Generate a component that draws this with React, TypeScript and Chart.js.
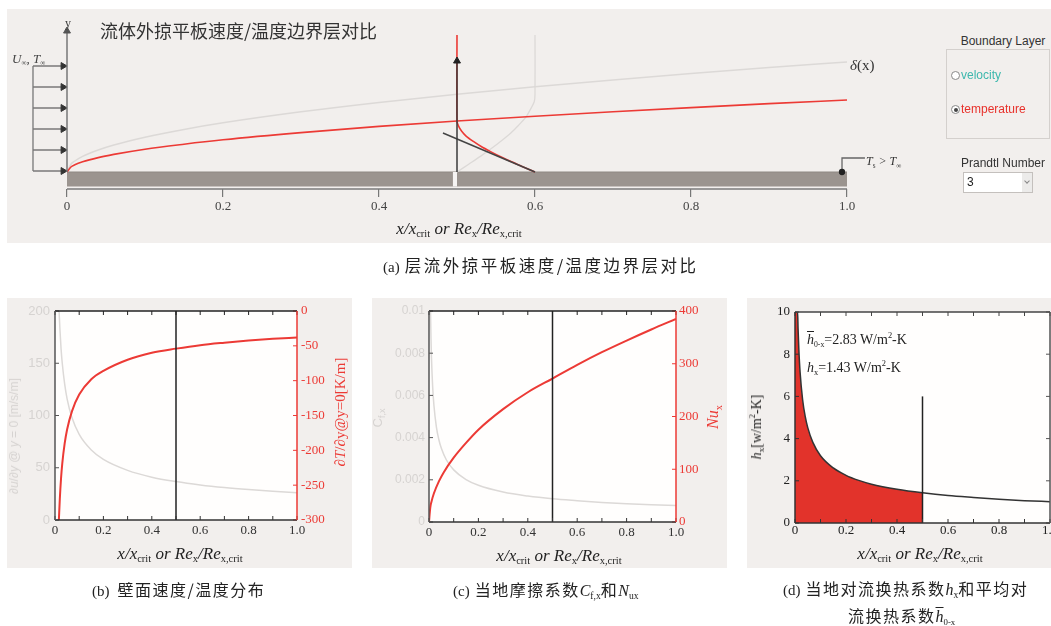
import React, { useEffect, useRef } from 'react';
import { Chart, registerables } from 'chart.js';

Chart.register(...registerables);

const SERIF = '"Liberation Serif", "DejaVu Serif", serif';
const SANS = '"Liberation Sans", Arial, sans-serif';
const CJK = '"Noto Sans CJK SC", "Noto Sans CJK JP", sans-serif';
const BG = '#f2efed';
const RED = '#ec3a35';
const GRAY = '#dcd9d7';
const DARK = '#333333';

// ---------------- data ----------------
const X_TICKS = [0, 0.2, 0.4, 0.6, 0.8, 1.0];
const X_MINOR = [0, 0.1, 0.2, 0.3, 0.4, 0.5, 0.6, 0.7, 0.8, 0.9, 1.0];

// (a) boundary layer thickness along the plate
const BL_X = [0, 0.005, 0.01, 0.02, 0.04, 0.06, 0.1, 0.15, 0.2, 0.3, 0.4, 0.5, 0.6, 0.7, 0.8, 0.9, 1.0];
const BL_VELOCITY = [0, 0.39, 0.55, 0.78, 1.1, 1.35, 1.74, 2.13, 2.46, 3.01, 3.48, 3.89, 4.26, 4.6, 4.92, 5.22, 5.5];
const BL_THERMAL = [0, 0.25, 0.36, 0.51, 0.72, 0.88, 1.14, 1.39, 1.61, 1.97, 2.28, 2.55, 2.79, 3.01, 3.22, 3.42, 3.6];
// profiles at x = 0.5
const VEL_PROFILE_X = [0.5, 0.515, 0.53, 0.544, 0.557, 0.569, 0.579, 0.588, 0.594, 0.599, 0.6, 0.6];
const VEL_PROFILE_Y = [0, 0.39, 0.78, 1.17, 1.56, 1.95, 2.34, 2.73, 3.12, 3.51, 3.9, 6.85];
const TEMP_PROFILE_X = [0.6, 0.585, 0.57, 0.556, 0.543, 0.531, 0.521, 0.512, 0.506, 0.502, 0.5, 0.5];
const TEMP_PROFILE_Y = [0, 0.255, 0.51, 0.765, 1.02, 1.275, 1.53, 1.785, 2.04, 2.295, 2.55, 6.85];
const TANGENT_X = [0.482, 0.6];
const TANGENT_Y = [1.95, 0];
const PROBE_X = 0.5;
const PROBE_TOP = 5.55;
const Y_AXIS_TOP = 7.05;
const INFLOW_Y = [5.3, 4.25, 3.2, 2.15, 1.1, 0.05];
const INFLOW_X0 = -0.0436;
const INFLOW_X1 = -0.005;
const PLATE_DEPTH = -0.72;
const AXIS_Y = -0.85;
const GAP_X = [0.4945, 0.5];
const TS_X = [0.9936, 0.9936, 1.023];
const TS_Y = [0, 0.7, 0.7];

// (b) wall gradients
const B_U_X = [0.0169, 0.02, 0.025, 0.03, 0.04, 0.05, 0.07, 0.1, 0.15, 0.2, 0.3, 0.4, 0.5, 0.6, 0.7, 0.8, 0.9, 1.0];
const B_DUDY = [200, 184, 164, 150, 130, 116, 98, 82, 67, 58, 47.5, 41, 36.8, 33.6, 31.1, 29.1, 27.4, 26];
const B_T_X = [0.016, 0.02, 0.025, 0.03, 0.04, 0.05, 0.07, 0.1, 0.15, 0.2, 0.3, 0.4, 0.5, 0.6, 0.7, 0.8, 0.9, 1.0];
const B_DTDY = [-300, -269, -240, -219, -190, -170, -144, -120, -98, -86, -70, -60, -54, -49, -45.5, -42.5, -40, -38];

// (c) friction coefficient and Nusselt number
const C_CF_X = [0.0061, 0.008, 0.01, 0.015, 0.02, 0.03, 0.04, 0.05, 0.07, 0.1, 0.15, 0.2, 0.3, 0.4, 0.5, 0.6, 0.7, 0.8, 0.9, 1.0];
const C_CF = [0.01, 0.00872, 0.0078, 0.00637, 0.00552, 0.0045, 0.0039, 0.00349, 0.00295, 0.00247, 0.00201, 0.00174, 0.00142, 0.00123, 0.0011, 0.00101, 0.00093, 0.00087, 0.00082, 0.00078];
const C_NU_X = [0, 0.005, 0.01, 0.02, 0.04, 0.06, 0.1, 0.15, 0.2, 0.3, 0.4, 0.5, 0.6, 0.7, 0.8, 0.9, 1.0];
const C_NU = [0, 27, 38.5, 54.5, 77, 94.5, 122, 150, 175, 214, 246, 272, 298, 322, 344, 365, 385];

// (d) local heat transfer coefficient
const D_X = [0, 0.0102, 0.012, 0.015, 0.02, 0.03, 0.04, 0.05, 0.07, 0.1, 0.15, 0.2, 0.25, 0.3, 0.4, 0.5, 0.6, 0.7, 0.8, 0.9, 1.0];
const D_H = [10, 10, 9.22, 8.25, 7.14, 5.83, 5.05, 4.52, 3.82, 3.19, 2.61, 2.26, 2.02, 1.84, 1.6, 1.43, 1.3, 1.21, 1.13, 1.06, 1.01];
const D_FILL_END = 0.5;
const D_MARK_TOP = 6;

// ---------------- helpers ----------------
type Pt = { x: number; y: number };
const zip = (xs: number[], ys: number[]): Pt[] => xs.map((x, i) => ({ x, y: ys[i] }));
const fmtX = (v: any) => (Number(v) === 0 ? '0' : Number(v).toFixed(1));

function line(data: Pt[], color: string, width: number, extra: any = {}) {
  return {
    type: 'line',
    data,
    borderColor: color,
    backgroundColor: color,
    borderWidth: width,
    pointRadius: 0,
    fill: false,
    clip: false,
    ...extra,
  };
}

function framePlugin(cfg: { fill: string; top: string; bottom: string; left: string; right: string }) {
  return {
    id: 'frame',
    beforeDraw(chart: any) {
      const { ctx, chartArea: a } = chart;
      ctx.save();
      ctx.fillStyle = cfg.fill;
      ctx.fillRect(a.left, a.top, a.right - a.left, a.bottom - a.top);
      ctx.restore();
    },
    afterDatasetsDraw(chart: any) {
      const { ctx, chartArea: a, scales } = chart;
      ctx.save();
      const seg = (x1: number, y1: number, x2: number, y2: number, c: string) => {
        ctx.strokeStyle = c;
        ctx.beginPath();
        ctx.moveTo(x1, y1);
        ctx.lineTo(x2, y2);
        ctx.stroke();
      };
      const L = 4;
      ctx.lineWidth = 1;
      for (const v of X_MINOR) {
        const px = scales.x.getPixelForValue(v);
        seg(px, a.top, px, a.top + L, cfg.top);
        seg(px, a.bottom, px, a.bottom - L, cfg.bottom);
      }
      for (const t of scales.y.ticks) {
        const py = scales.y.getPixelForValue(t.value);
        seg(a.left, py, a.left + L, py, cfg.left);
        if (!scales.y2) seg(a.right, py, a.right - L, py, cfg.right);
      }
      if (scales.y2) {
        for (const t of scales.y2.ticks) {
          const py = scales.y2.getPixelForValue(t.value);
          seg(a.right, py, a.right - L, py, cfg.right);
        }
      }
      ctx.lineWidth = 1.5;
      seg(a.left, a.top, a.right, a.top, cfg.top);
      seg(a.left, a.bottom, a.right, a.bottom, cfg.bottom);
      seg(a.left, a.top, a.left, a.bottom, cfg.left);
      seg(a.right, a.top, a.right, a.bottom, cfg.right);
      ctx.restore();
    },
  };
}

const baseOptions = {
  responsive: false,
  animation: false,
  events: [],
  plugins: { legend: { display: false }, tooltip: { enabled: false } },
};

function xAxis(height: number, padding: number, color: string) {
  return {
    type: 'linear',
    position: 'bottom',
    min: 0,
    max: 1,
    afterFit: (s: any) => { s.height = height; },
    afterBuildTicks: (s: any) => { s.ticks = X_TICKS.map((v) => ({ value: v })); },
    grid: { display: false, drawTicks: false, tickLength: 0 },
    border: { display: false },
    ticks: { padding, color, font: { family: SERIF, size: 13 }, maxRotation: 0, callback: fmtX },
  };
}

function yAxis(pos: string, width: number, min: number, max: number, step: number, color: string, family: string, padding: number, size = 13) {
  return {
    type: 'linear',
    position: pos,
    min,
    max,
    afterFit: (s: any) => { s.width = width; },
    grid: { display: false, drawTicks: false, tickLength: 0 },
    border: { display: false },
    ticks: { stepSize: step, padding, color, font: { family, size }, callback: (v: any) => String(+Number(v).toFixed(4)) },
  };
}

// ---------------- chart configs ----------------
function topConfig(): any {
  const datasets: any[] = [
    line(zip([0, 1], [0, 0]), '#8f8883', 1, { fill: { value: PLATE_DEPTH }, backgroundColor: '#9b948f', order: 9 }),
    line(zip(GAP_X, [0, 0]), '#f6f4f3', 0, { fill: { value: PLATE_DEPTH }, backgroundColor: '#f6f4f3', order: 8 }),
    line(zip([0, 1], [AXIS_Y, AXIS_Y]), '#7a7a7a', 1.5, { order: 8 }),
    line(zip(BL_X, BL_VELOCITY), GRAY, 1.5, { cubicInterpolationMode: 'monotone', order: 5 }),
    line(zip(BL_X, BL_THERMAL), RED, 1.6, { cubicInterpolationMode: 'monotone', order: 4 }),
    line(zip(VEL_PROFILE_X, VEL_PROFILE_Y), GRAY, 1.3, { tension: 0.25, order: 5 }),
    line(zip(TEMP_PROFILE_X, TEMP_PROFILE_Y), RED, 1.6, { tension: 0.25, order: 3 }),
    line(zip(TANGENT_X, TANGENT_Y), '#444', 1.5, { order: 2 }),
    line(zip([PROBE_X, PROBE_X], [0, PROBE_TOP]), '#3a3a3a', 1.5, {
      order: 1, pointRadius: [0, 4], pointStyle: 'triangle', pointBackgroundColor: '#222', pointBorderColor: '#222', pointBorderWidth: 1,
    }),
    line(zip([0, 0], [0, Y_AXIS_TOP]), '#777', 1.5, {
      order: 1, pointRadius: [0, 4], pointStyle: 'triangle', pointBackgroundColor: '#555', pointBorderColor: '#555', pointBorderWidth: 1,
    }),
    line(zip([INFLOW_X0, INFLOW_X0], [INFLOW_Y[INFLOW_Y.length - 1], INFLOW_Y[0]]), '#777', 1.3, { order: 1 }),
    line(zip(TS_X, TS_Y), '#666', 1.3, {
      order: 1, pointRadius: [2.5, 0, 0], pointBackgroundColor: '#222', pointBorderColor: '#222',
    }),
  ];
  for (const y of INFLOW_Y) {
    datasets.push(line(zip([INFLOW_X0, INFLOW_X1], [y, y]), '#666', 1.3, {
      order: 1, pointRadius: [0, 4], pointStyle: 'triangle', pointRotation: 90, pointBackgroundColor: '#333', pointBorderColor: '#333', pointBorderWidth: 1,
    }));
  }
  return {
    type: 'line',
    data: { datasets },
    options: {
      ...baseOptions,
      layout: { padding: { left: 12.4, right: 10, top: 20, bottom: 0 } },
      scales: {
        x: {
          type: 'linear',
          min: -0.07,
          max: 1.1,
          afterFit: (s: any) => { s.height = 56; },
          afterBuildTicks: (s: any) => { s.ticks = X_TICKS.map((v) => ({ value: v })); },
          grid: { display: true, drawOnChartArea: false, drawTicks: true, tickLength: 8, color: '#777', lineWidth: 1.2 },
          border: { display: false },
          ticks: { padding: 2, color: '#444', font: { family: SERIF, size: 13 }, maxRotation: 0, callback: fmtX },
        },
        y: { type: 'linear', display: false, min: AXIS_Y, max: 7.6 },
      },
    },
  };
}

function bConfig(): any {
  return {
    type: 'line',
    data: {
      datasets: [
        line(zip(B_U_X, B_DUDY), GRAY, 1.5, { cubicInterpolationMode: 'monotone', yAxisID: 'y', clip: true, order: 3 }),
        line(zip(B_T_X, B_DTDY), RED, 2, { cubicInterpolationMode: 'monotone', yAxisID: 'y2', clip: true, order: 2 }),
        line(zip([0.5, 0.5], [0, 200]), '#222', 1.5, { yAxisID: 'y', order: 1 }),
      ],
    },
    options: {
      ...baseOptions,
      layout: { padding: { left: 0, right: 0, top: 13, bottom: 0 } },
      scales: {
        x: xAxis(48, 3, DARK),
        y: yAxis('left', 48, 0, 200, 50, '#d6d3d1', SANS, 5),
        y2: yAxis('right', 55, -300, 0, 50, RED, SERIF, 4),
      },
    },
    plugins: [framePlugin({ fill: '#fffefd', top: '#222', bottom: '#333', left: '#555', right: RED })],
  };
}

function cConfig(): any {
  return {
    type: 'line',
    data: {
      datasets: [
        line(zip(C_CF_X, C_CF), GRAY, 1.5, { cubicInterpolationMode: 'monotone', yAxisID: 'y', clip: true, order: 3 }),
        line(zip(C_NU_X, C_NU), RED, 2, { cubicInterpolationMode: 'monotone', yAxisID: 'y2', clip: true, order: 2 }),
        line(zip([0.5, 0.5], [0, 0.01]), '#222', 1.5, { yAxisID: 'y', order: 1 }),
      ],
    },
    options: {
      ...baseOptions,
      layout: { padding: { left: 0, right: 0, top: 13, bottom: 0 } },
      scales: {
        x: xAxis(46, 3, DARK),
        y: yAxis('left', 57, 0, 0.01, 0.002, '#d6d3d1', SANS, 4, 12),
        y2: yAxis('right', 51, 0, 400, 100, RED, SERIF, 3),
      },
    },
    plugins: [framePlugin({ fill: '#fffefd', top: '#222', bottom: '#333', left: '#555', right: RED })],
  };
}

function dConfig(): any {
  const fillPts = zip(D_X, D_H).filter((p) => p.x <= D_FILL_END);
  return {
    type: 'line',
    data: {
      datasets: [
        line(fillPts, '#e2332b', 0, { cubicInterpolationMode: 'monotone', fill: 'origin', backgroundColor: '#e2332b', clip: true, order: 4 }),
        line(zip(D_X, D_H), '#333', 1.5, { cubicInterpolationMode: 'monotone', clip: true, order: 2 }),
        line(zip([0.5, 0.5], [0, D_MARK_TOP]), '#222', 1.5, { order: 1 }),
      ],
    },
    options: {
      ...baseOptions,
      layout: { padding: { left: 0, right: 17, top: 14, bottom: 0 } },
      scales: {
        x: xAxis(45, 0, '#222'),
        y: yAxis('left', 48, 0, 10, 2, '#222', SERIF, 5),
      },
    },
    plugins: [framePlugin({ fill: '#fffefd', top: '#444', bottom: '#333', left: '#333', right: '#555' })],
  };
}

// ---------------- components ----------------
function ChartCanvas({ left, top, width, height, make }: any) {
  const ref = useRef<HTMLCanvasElement | null>(null);
  useEffect(() => {
    if (!ref.current) return;
    const chart = new Chart(ref.current, make());
    return () => chart.destroy();
  }, [make]);
  return (
    <canvas ref={ref} width={width} height={height}
      style={{ position: 'absolute', left, top, width, height, display: 'block' }} />
  );
}

const Sub = ({ children, size = 0.62 }: any) => (
  <span style={{ fontSize: `${size}em`, fontStyle: 'normal', verticalAlign: '-0.35em', lineHeight: 0 }}>{children}</span>
);

const Center = ({ cx, cy, rotate, style, children }: any) => (
  <div style={{
    position: 'absolute', left: cx, top: cy, whiteSpace: 'nowrap', lineHeight: 1,
    transform: `translate(-50%,-50%)${rotate ? ` rotate(${rotate}deg)` : ''}`, ...style,
  }}>{children}</div>
);

const LeftText = ({ x, cy, style, children }: any) => (
  <div style={{ position: 'absolute', left: x, top: cy, whiteSpace: 'nowrap', lineHeight: 1, transform: 'translateY(-50%)', ...style }}>{children}</div>
);

const XTitle = ({ cx, cy }: any) => (
  <Center cx={cx} cy={cy} style={{ fontFamily: SERIF, fontStyle: 'italic', fontSize: 17, color: '#222' }}>
    x/x<Sub>crit</Sub> or Re<Sub>x</Sub>/Re<Sub>x,crit</Sub>
  </Center>
);

const capCJK = { fontFamily: CJK, fontSize: 16, letterSpacing: 1.5, color: '#222' };
const capLatin = { fontFamily: SERIF, fontSize: 15, color: '#222' };

export default function App() {
  return (
    <div style={{ position: 'absolute', left: 0, top: 0, width: 1051, height: 626, overflow: 'hidden', background: '#ffffff', fontFamily: SERIF }}>
      {/* top panel */}
      <div style={{ position: 'absolute', left: 7, top: 9, width: 1044, height: 234, background: BG }} />
      <ChartCanvas left={0} top={0} width={935} height={245} make={topConfig} />
      <LeftText x={100} cy={30} style={{ fontFamily: CJK, fontSize: 18, color: '#333' }}>流体外掠平板速度/温度边界层对比</LeftText>
      <Center cx={68} cy={23} style={{ fontSize: 12, color: '#444' }}>y</Center>
      <LeftText x={12} cy={58} style={{ fontSize: 13, fontStyle: 'italic', color: '#444' }}>
        U<Sub size={0.55}>∞</Sub>, T<Sub size={0.55}>∞</Sub>
      </LeftText>
      <LeftText x={850} cy={65} style={{ fontSize: 15, color: '#333' }}><i>δ</i>(x)</LeftText>
      <LeftText x={866} cy={161} style={{ fontSize: 12, fontStyle: 'italic', color: '#333' }}>
        T<Sub size={0.6}>s</Sub> &gt; T<Sub size={0.6}>∞</Sub>
      </LeftText>
      <XTitle cx={459} cy={228} />

      {/* controls */}
      <Center cx={1003} cy={41} style={{ fontFamily: SANS, fontSize: 12, color: '#333' }}>Boundary Layer</Center>
      <div style={{ position: 'absolute', left: 946, top: 49, width: 102, height: 88, border: '1px solid #d4d0cd' }} />
      <div style={{ position: 'absolute', left: 951, top: 71, width: 7, height: 7, borderRadius: '50%', border: '1px solid #888', background: '#fff' }} />
      <LeftText x={961} cy={75} style={{ fontFamily: SANS, fontSize: 12, color: '#3db8ad' }}>velocity</LeftText>
      <div style={{ position: 'absolute', left: 951, top: 105, width: 7, height: 7, borderRadius: '50%', border: '1px solid #888', background: '#fff' }}>
        <div style={{ position: 'absolute', left: 1.5, top: 1.5, width: 4, height: 4, borderRadius: '50%', background: '#444' }} />
      </div>
      <LeftText x={961} cy={109} style={{ fontFamily: SANS, fontSize: 12, color: '#e8312b' }}>temperature</LeftText>
      <Center cx={1003} cy={163} style={{ fontFamily: SANS, fontSize: 12, color: '#333' }}>Prandtl Number</Center>
      <div style={{ position: 'absolute', left: 963, top: 172, width: 68, height: 19, border: '1px solid #c4c0bd', background: '#fff' }}>
        <div style={{ position: 'absolute', left: 3, top: 3, fontFamily: SANS, fontSize: 12, lineHeight: 1, color: '#222' }}>3</div>
        <div style={{ position: 'absolute', right: 0, top: 0, width: 10, height: 19, background: '#ecebea' }}>
          <div style={{ position: 'absolute', left: 3, top: 6, width: 3, height: 3, borderRight: '1px solid #888', borderBottom: '1px solid #888', transform: 'rotate(45deg)' }} />
        </div>
      </div>

      {/* caption a */}
      <LeftText x={383} cy={266} style={{ color: '#222' }}>
        <span style={{ ...capLatin, marginRight: 5 }}>(a)</span>
        <span style={{ ...capCJK, fontSize: 16.5, letterSpacing: 2.5 }}>层流外掠平板速度/温度边界层对比</span>
      </LeftText>

      {/* panel b */}
      <div style={{ position: 'absolute', left: 7, top: 298, width: 345, height: 270, background: BG }} />
      <ChartCanvas left={7} top={298} width={345} height={270} make={bConfig} />
      <Center cx={14} cy={436} rotate={-90} style={{ fontFamily: SANS, fontSize: 12, color: '#d6d3d1' }}>
        <i>∂u</i>/<i>∂y</i> @ <i>y</i> = 0 [m/s/m]
      </Center>
      <Center cx={340} cy={412} rotate={-90} style={{ fontFamily: SERIF, fontSize: 15, color: RED }}>
        ∂<i>T</i>/∂y@y=0[K/m]
      </Center>
      <XTitle cx={180} cy={553} />

      {/* panel c */}
      <div style={{ position: 'absolute', left: 372, top: 298, width: 355, height: 270, background: BG }} />
      <ChartCanvas left={372} top={298} width={355} height={270} make={cConfig} />
      <Center cx={377} cy={418} rotate={-90} style={{ fontFamily: SANS, fontSize: 13, color: '#d6d3d1' }}>
        C<Sub size={0.7}>f,x</Sub>
      </Center>
      <Center cx={713} cy={417} rotate={-90} style={{ fontFamily: SERIF, fontSize: 16, fontStyle: 'italic', color: RED }}>
        Nu<Sub size={0.65}>x</Sub>
      </Center>
      <XTitle cx={559} cy={555} />

      {/* panel d */}
      <div style={{ position: 'absolute', left: 747, top: 298, width: 304, height: 270, background: BG, overflow: 'hidden' }}>
        <ChartCanvas left={0} top={0} width={320} height={270} make={dConfig} />
      </div>
      <Center cx={757} cy={427} rotate={-90} style={{ fontFamily: SERIF, fontSize: 14, color: '#222' }}>
        <i>h</i><Sub size={0.65}>x</Sub>[w/m<sup style={{ fontSize: '0.6em', lineHeight: 0 }}>2</sup>-K]
      </Center>
      <LeftText x={807} cy={340} style={{ fontFamily: SERIF, fontSize: 14, color: '#222' }}>
        <i style={{ textDecoration: 'overline' }}>h</i><Sub size={0.55}>0-x</Sub>=2.83 W/m<sup style={{ fontSize: '0.6em', lineHeight: 0 }}>2</sup>-K
      </LeftText>
      <LeftText x={807} cy={368} style={{ fontFamily: SERIF, fontSize: 14, color: '#222' }}>
        <i>h</i><Sub size={0.6}>x</Sub>=1.43 W/m<sup style={{ fontSize: '0.6em', lineHeight: 0 }}>2</sup>-K
      </LeftText>
      <XTitle cx={920} cy={553} />

      {/* captions b, c, d */}
      <LeftText x={92} cy={590}>
        <span style={{ ...capLatin, marginRight: 8 }}>(b)</span>
        <span style={capCJK}>壁面速度/温度分布</span>
      </LeftText>
      <LeftText x={453} cy={590}>
        <span style={{ ...capLatin, marginRight: 5 }}>(c)</span>
        <span style={capCJK}>当地摩擦系数</span>
        <span style={{ fontFamily: SERIF, fontStyle: 'italic', fontSize: 16, color: '#222' }}>C<Sub size={0.6}>f,x</Sub></span>
        <span style={capCJK}>和</span>
        <span style={{ fontFamily: SERIF, fontStyle: 'italic', fontSize: 16, color: '#222' }}>N<Sub size={0.6}>ux</Sub></span>
      </LeftText>
      <LeftText x={783} cy={589}>
        <span style={{ ...capLatin, marginRight: 5 }}>(d)</span>
        <span style={capCJK}>当地对流换热系数</span>
        <span style={{ fontFamily: SERIF, fontStyle: 'italic', fontSize: 16, color: '#222' }}>h<Sub size={0.6}>x</Sub></span>
        <span style={capCJK}>和平均对</span>
      </LeftText>
      <LeftText x={848} cy={616}>
        <span style={capCJK}>流换热系数</span>
        <span style={{ fontFamily: SERIF, fontStyle: 'italic', fontSize: 16, color: '#222' }}>
          <span style={{ textDecoration: 'overline' }}>h</span><Sub size={0.55}>0-x</Sub>
        </span>
      </LeftText>
    </div>
  );
}
